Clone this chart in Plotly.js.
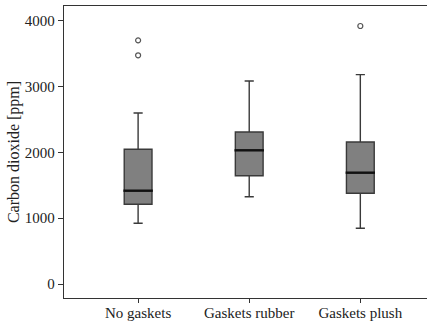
<!DOCTYPE html>
<html>
<head>
<meta charset="utf-8">
<script src="https://cdn.plot.ly/plotly-3.0.1.min.js"></script>
<style>html,body{margin:0;padding:0;background:#fff;}#chart{width:427px;height:323px;}</style>
</head>
<body>
<div id="chart"></div>
<script>
const categories = ["No gaskets", "Gaskets rubber", "Gaskets plush"];
const lowerWhisker = [923, 1328, 847];
const q1Values = [1212, 1647, 1379];
const medianValues = [1419, 2033, 1693];
const q3Values = [2049, 2312, 2160];
const upperWhisker = [2601, 3087, 3185];
const outlierCategories = ["No gaskets", "No gaskets", "Gaskets plush"];
const outlierValues = [3706, 3478, 3924];
const yTickValues = [0, 1000, 2000, 3000, 4000];

const traces = [
  {
    type: "box",
    x: categories,
    q1: q1Values,
    median: medianValues,
    q3: q3Values,
    lowerfence: lowerWhisker,
    upperfence: upperWhisker,
    boxpoints: false,
    width: 0.25,
    whiskerwidth: 0.33,
    fillcolor: "#808080",
    line: {color: "#3a3a3a", width: 1.4},
    hoverinfo: "skip",
    showlegend: false
  },
  {
    type: "scatter",
    mode: "markers",
    x: categories,
    y: medianValues,
    marker: {symbol: "line-ew", size: 21, line: {color: "#111", width: 2.4}},
    hoverinfo: "skip",
    showlegend: false
  },
  {
    type: "scatter",
    mode: "markers",
    x: outlierCategories,
    y: outlierValues,
    marker: {symbol: "circle-open", size: 5, color: "#555", line: {width: 1.2, color: "#555"}},
    hoverinfo: "skip",
    showlegend: false
  }
];

const layout = {
  width: 427,
  height: 323,
  margin: {l: 64, r: 0, t: 6, b: 25},
  paper_bgcolor: "#fff",
  plot_bgcolor: "#fff",
  font: {family: "Liberation Serif, Times New Roman, serif", size: 15, color: "#222"},
  xaxis: {
    type: "category",
    range: [-0.667, 2.6],
    showline: true,
    linecolor: "#333",
    linewidth: 1.2,
    mirror: true,
    ticks: "outside",
    ticklen: 4,
    tickcolor: "#333",
    ticklabelstandoff: -3,
    showgrid: false,
    zeroline: false,
    tickfont: {size: 15}
  },
  yaxis: {
    range: [-213, 4228],
    tickvals: yTickValues,
    ticktext: yTickValues.map(String),
    showline: true,
    linecolor: "#333",
    linewidth: 1.2,
    ticks: "outside",
    ticklen: 5,
    tickcolor: "#333",
    showgrid: false,
    zeroline: false,
    tickfont: {size: 15},
    title: {text: "Carbon dioxide [ppm]", font: {size: 16}, standoff: 1}
  }
};

Plotly.newPlot("chart", traces, layout, {staticPlot: true, displayModeBar: false});
</script>
</body>
</html>
